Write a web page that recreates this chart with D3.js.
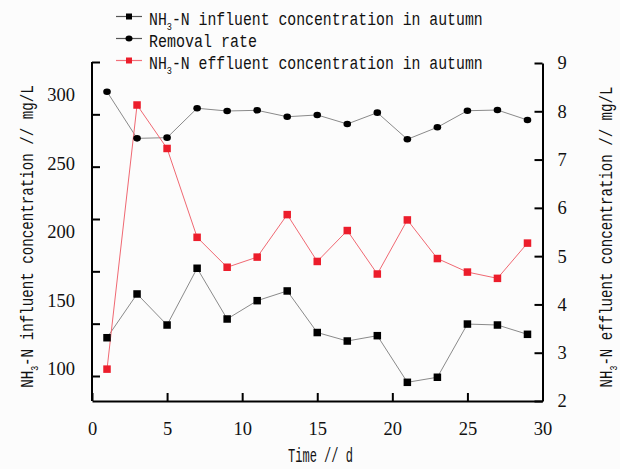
<!DOCTYPE html>
<html>
<head>
<meta charset="utf-8">
<script src="https://cdn.jsdelivr.net/npm/d3@7"></script>
<style>
  body { margin: 0; background: #fcfcfc; }
  svg { display: block; }
  .axis text { font-family: "Liberation Serif", "DejaVu Serif", serif; font-size: 18.5px; fill: #111; }
</style>
</head>
<body>
<svg id="chart" width="620" height="469"></svg>
<script>
// data
const days = [1, 3, 5, 7, 9, 11, 13, 15, 17, 19, 21, 23, 25, 27, 29];
const influent = [122.5, 154.5, 131.8, 173.3, 136.2, 149.6, 156.7, 126.3, 120.1, 124.0, 89.9, 93.6, 132.5, 131.8, 125.0];
const removalRate = [302.4, 268.3, 268.8, 290.3, 288.3, 288.8, 284.1, 285.4, 278.8, 287.1, 267.6, 276.4, 288.5, 289.0, 281.7];
const effluent = [2.66, 8.13, 7.23, 5.39, 4.77, 4.98, 5.86, 4.89, 5.53, 4.63, 5.75, 4.95, 4.67, 4.54, 5.27];
const xTicks = [0, 5, 10, 15, 20, 25, 30];
const leftTicks = [100, 150, 200, 250, 300];
const leftTickMarks = [0, 1, 2, 3, 4, 5, 6];
const rightTicks = [2, 3, 4, 5, 6, 7, 8, 9];
const legendNames = ["influent concentration in autumn", "Removal rate", "effluent concentration in autumn"];

const svg = d3.select("svg#chart");
const plot = { top: 62, bottom: 401, left: 92, right: 542.5 };
const monoFont = "Liberation Mono, monospace";

const xScale = d3.scaleLinear().domain([0, 30]).range([plot.left, plot.right]);
const leftScale = d3.scaleLinear().domain([100, 300]).range([368.5, 95]);
const leftMarkScale = d3.scaleLinear().domain([0, 6]).range([376, plot.top]);
const rightScale = d3.scaleLinear().domain([2, 9]).range([plot.bottom, 63]);

// squeeze text to the width seen in the figure
function fit(t, width, x, y, rot) {
  const bw = t.node().getBBox().width;
  t.attr("transform", `translate(${x},${y}) rotate(${rot}) scale(${width / bw},1)`);
}
function nh3(t, rest) {
  t.append("tspan").text("NH");
  t.append("tspan").attr("font-size", 11).attr("dy", 5).text("3");
  t.append("tspan").attr("dy", -5).text("-N " + rest);
}

// axes
svg.append("g").attr("class", "x axis")
  .attr("transform", `translate(0,${plot.bottom})`)
  .call(d3.axisBottom(xScale).tickValues(xTicks).tickFormat(d3.format("d"))
    .tickSizeInner(-8).tickSizeOuter(0).tickPadding(21));

svg.append("g").attr("class", "y axis left")
  .attr("transform", `translate(${plot.left},0)`)
  .call(d3.axisLeft(leftScale).tickValues(leftTicks).tickFormat(d3.format("d")).tickSize(0).tickPadding(17))
  .call(g => g.select(".domain").remove());
svg.append("g").attr("class", "y axis leftmarks")
  .attr("transform", `translate(${plot.left},0)`)
  .call(d3.axisLeft(leftMarkScale).tickValues(leftTickMarks).tickFormat("").tickSizeInner(-8).tickSizeOuter(0))
  .call(g => g.select(".domain").remove());
svg.append("line")
  .attr("x1", plot.left).attr("x2", plot.left)
  .attr("y1", plot.top).attr("y2", plot.bottom)
  .attr("stroke", "#000").attr("stroke-width", 2);

svg.append("g").attr("class", "y axis right")
  .attr("transform", `translate(${plot.right},0)`)
  .call(d3.axisRight(rightScale).tickValues(rightTicks).tickFormat(d3.format("d"))
    .tickSizeInner(-8).tickSizeOuter(0).tickPadding(15));

svg.selectAll(".axis").attr("font-family", null).attr("font-size", null);
svg.selectAll(".axis .domain").attr("stroke", "#000").attr("stroke-width", 2);
svg.selectAll(".axis .tick line").attr("stroke", "#000").attr("stroke-width", 2);

// series
const pts = vals => days.map((d, i) => [d, vals[i]]);
const lineL = d3.line().x(d => xScale(d[0])).y(d => leftScale(d[1]));
const lineR = d3.line().x(d => xScale(d[0])).y(d => rightScale(d[1]));

svg.append("path").datum(pts(influent)).attr("d", lineL)
  .attr("fill", "none").attr("stroke", "#8a8a8a").attr("stroke-width", 1);
svg.append("path").datum(pts(removalRate)).attr("d", lineL)
  .attr("fill", "none").attr("stroke", "#8a8a8a").attr("stroke-width", 1);
svg.append("path").datum(pts(effluent)).attr("d", lineR)
  .attr("fill", "none").attr("stroke", "#f06872").attr("stroke-width", 1);

const sq = 7.5;
svg.append("g").selectAll("rect").data(pts(influent)).enter().append("rect")
  .attr("x", d => xScale(d[0]) - sq / 2).attr("y", d => leftScale(d[1]) - sq / 2)
  .attr("width", sq).attr("height", sq).attr("fill", "#000");
svg.append("g").selectAll("ellipse").data(pts(removalRate)).enter().append("ellipse")
  .attr("cx", d => xScale(d[0])).attr("cy", d => leftScale(d[1]))
  .attr("rx", 3.8).attr("ry", 3.3).attr("fill", "#000");
svg.append("g").selectAll("rect").data(pts(effluent)).enter().append("rect")
  .attr("x", d => xScale(d[0]) - sq / 2).attr("y", d => rightScale(d[1]) - sq / 2)
  .attr("width", sq).attr("height", sq).attr("fill", "#ec1d2b");

// legend
const legend = svg.append("g");
const rows = [
  { y: 16.5, line: "#555", marker: "square", fill: "#000" },
  { y: 38.5, line: "#555", marker: "circle", fill: "#000" },
  { y: 60.5, line: "#f2707a", marker: "square", fill: "#ec1d2b" }
];
rows.forEach((r, i) => {
  legend.append("line").attr("x1", 116).attr("x2", 142).attr("y1", r.y).attr("y2", r.y)
    .attr("stroke", r.line).attr("stroke-width", 1.2);
  if (r.marker === "square") {
    legend.append("rect").attr("x", 126).attr("y", r.y - 3).attr("width", 6).attr("height", 6).attr("fill", r.fill);
  } else {
    legend.append("ellipse").attr("cx", 129).attr("cy", r.y).attr("rx", 3.5).attr("ry", 3).attr("fill", r.fill);
  }
  const t = legend.append("text").attr("font-family", monoFont).attr("font-size", 19).attr("fill", "#111");
  if (i === 1) t.text(legendNames[i]); else nh3(t, legendNames[i]);
  fit(t, i === 1 ? 108 : 334, 149, r.y + 8.5, 0);
});

// axis titles
const tl = svg.append("text").attr("font-family", monoFont).attr("font-size", 19)
  .attr("text-anchor", "middle").attr("fill", "#111");
nh3(tl, "influent concentration // mg/L");
fit(tl, 303, 33, 236.5, -90);

const tr = svg.append("text").attr("font-family", monoFont).attr("font-size", 19)
  .attr("text-anchor", "middle").attr("fill", "#111");
nh3(tr, "effluent concentration // mg/L");
fit(tr, 301, 612, 237, -90);

const tx = svg.append("text").attr("font-family", monoFont).attr("font-size", 20)
  .attr("text-anchor", "middle").attr("fill", "#111").text("Time // d");
fit(tx, 65, 320.5, 462, 0);
</script>
</body>
</html>
